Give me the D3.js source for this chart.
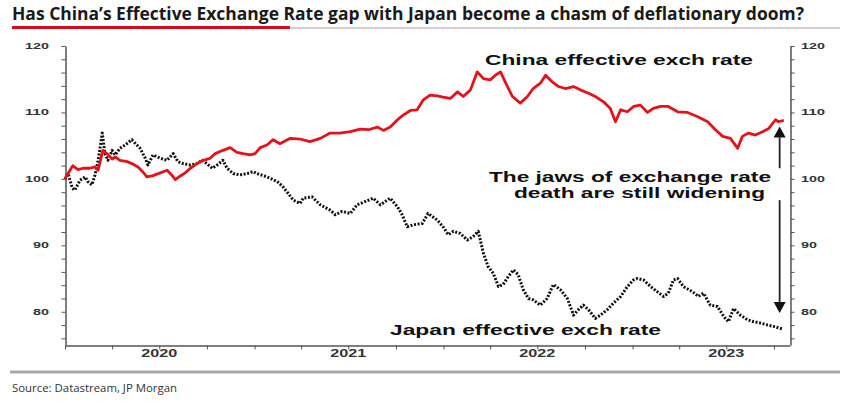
<!DOCTYPE html>
<html>
<head>
<meta charset="utf-8">
<script src="https://cdnjs.cloudflare.com/ajax/libs/d3/7.8.5/d3.min.js"></script>
<style>
  html, body { margin: 0; padding: 0; background: #fff; }
  svg { display: block; }
</style>
</head>
<body>
<svg id="chart" width="848" height="405"></svg>
<script>
// ---------------- DATA ----------------
const chinaDates = ["2020-01-01","2020-01-07","2020-01-16","2020-01-26","2020-02-05","2020-02-18","2020-02-28","2020-03-05","2020-03-14","2020-03-22","2020-04-01","2020-04-07","2020-04-16","2020-04-30","2020-05-09","2020-05-21","2020-05-31","2020-06-07","2020-06-19","2020-07-03","2020-07-16","2020-07-26","2020-08-01","2020-08-10","2020-08-20","2020-08-30","2020-09-12","2020-09-24","2020-10-07","2020-10-17","2020-11-01","2020-11-15","2020-11-28","2020-12-10","2020-12-24","2021-01-02","2021-01-12","2021-01-25","2021-02-06","2021-02-19","2021-03-11","2021-03-30","2021-04-18","2021-05-08","2021-05-27","2021-06-15","2021-07-05","2021-07-24","2021-08-09","2021-08-26","2021-09-07","2021-09-20","2021-10-04","2021-10-15","2021-10-29","2021-11-11","2021-11-23","2021-12-06","2021-12-20","2021-12-31","2022-01-14","2022-01-28","2022-02-08","2022-02-22","2022-03-07","2022-03-19","2022-04-01","2022-04-11","2022-04-21","2022-04-30","2022-05-14","2022-05-29","2022-06-12","2022-06-23","2022-07-07","2022-07-17","2022-07-30","2022-08-11","2022-08-24","2022-09-09","2022-09-22","2022-10-08","2022-10-21","2022-11-06","2022-11-19","2022-11-29","2022-12-09","2022-12-22","2023-01-03","2023-01-16","2023-01-30","2023-02-10","2023-02-24","2023-03-11","2023-03-29","2023-04-17","2023-05-06","2023-05-26","2023-06-10","2023-06-24","2023-07-09","2023-07-23","2023-08-01","2023-08-13","2023-08-26","2023-09-09","2023-09-21","2023-10-04","2023-10-10","2023-10-20"];
const chinaValues = [100,100.8,102,101.4,101.6,101.6,101.8,101.3,104.3,103.8,103,103.3,102.8,102.6,102.3,101.8,101,100.3,100.5,100.9,101.3,100.5,99.9,100.4,100.9,101.6,102.3,102.8,103.1,103.8,104.3,104.7,104,103.8,103.6,103.8,104.7,105.1,105.9,105.3,106.1,106,105.6,106.1,106.9,106.9,107.1,107.5,107.4,107.8,107.3,107.8,108.9,109.6,110.3,110.4,111.9,112.6,112.5,112.3,112.1,113.1,112.4,113.4,116.1,115.1,114.9,115.6,116.1,114.6,112.4,111.4,112.4,113.6,114.4,115.6,114.6,113.9,113.6,113.9,113.4,112.9,112.4,111.6,110.6,108.6,110.4,110.1,110.9,111.1,110,110.6,110.9,110.9,110.1,110,109.4,108.6,107.4,106.4,106.1,104.6,106.4,106.9,106.6,107.1,107.6,108.9,108.6,108.8];

const japanDates = ["2020-01-01","2020-01-07","2020-01-15","2020-01-20","2020-01-30","2020-02-09","2020-02-14","2020-02-22","2020-02-28","2020-03-05","2020-03-13","2020-03-18","2020-03-24","2020-04-01","2020-04-07","2020-04-16","2020-04-26","2020-05-09","2020-05-15","2020-05-25","2020-06-04","2020-06-09","2020-06-19","2020-07-03","2020-07-16","2020-07-28","2020-08-06","2020-08-16","2020-08-30","2020-09-12","2020-09-22","2020-10-01","2020-10-11","2020-10-21","2020-11-01","2020-11-09","2020-11-21","2020-12-04","2020-12-18","2020-12-29","2021-01-06","2021-01-25","2021-02-14","2021-02-25","2021-03-17","2021-03-30","2021-04-05","2021-04-22","2021-05-08","2021-05-27","2021-06-06","2021-06-19","2021-07-05","2021-07-18","2021-08-03","2021-08-18","2021-09-01","2021-09-20","2021-10-04","2021-10-13","2021-10-23","2021-11-04","2021-11-21","2021-12-02","2021-12-20","2021-12-31","2022-01-10","2022-01-20","2022-02-02","2022-02-16","2022-02-27","2022-03-09","2022-03-19","2022-03-28","2022-04-07","2022-04-17","2022-04-26","2022-05-06","2022-05-16","2022-05-25","2022-06-04","2022-06-14","2022-06-23","2022-07-07","2022-07-20","2022-08-01","2022-08-15","2022-08-28","2022-09-09","2022-09-18","2022-09-28","2022-10-08","2022-10-21","2022-10-31","2022-11-13","2022-11-25","2022-12-09","2022-12-22","2023-01-03","2023-01-10","2023-01-22","2023-02-05","2023-02-18","2023-03-02","2023-03-11","2023-03-21","2023-03-29","2023-04-09","2023-04-27","2023-05-08","2023-05-18","2023-05-31","2023-06-14","2023-06-26","2023-07-05","2023-07-15","2023-07-28","2023-08-11","2023-08-23","2023-09-05","2023-09-19","2023-09-30","2023-10-18"];
const japanValues = [100,100.8,98.6,98.3,99.8,100.3,99.6,99.1,100.6,102.8,106.9,103.8,102.8,104.3,103.6,104.6,105.1,105.9,105.4,104.6,103.1,102.1,103.6,103.1,102.8,103.8,102.6,102.3,102.1,102.3,102.8,102.3,101.6,102.1,102.8,101.6,100.8,100.6,100.8,101.1,100.8,100.3,99.6,98.8,96.8,96.3,97.1,97.3,96.1,95.3,94.6,95.1,94.8,96.1,96.6,97.1,96.1,97.1,95.8,94.6,92.8,93.1,93.3,94.8,93.8,92.8,91.6,92.1,91.8,90.8,91.3,92.1,88.8,86.8,85.8,83.8,84.1,85.3,86.3,85.6,83.3,82,81.8,81,82,84.1,83.3,82,79.5,80.3,81,80.3,79,79.5,80.3,81.3,82.3,83.8,84.8,85,84.8,83.8,83,82.3,82.8,84.8,85,83.8,83,82.3,82.8,81,80.8,79.3,78.5,80.5,79.5,78.8,78.5,78.3,78,77.8,77.4];

const yMajorTicks = [80, 90, 100, 110, 120];
const yearLabels = ["2020", "2021", "2022", "2023"];
const titleText = "Has China\u2019s Effective Exchange Rate gap with Japan become a chasm of deflationary doom?";
const sourceText = "Source: Datastream, JP Morgan";
const chinaLabel = "China effective exch rate";
const japanLabel = "Japan effective exch rate";
const jawsLines = ["The jaws of exchange rate", "death are still widening"];

// ---------------- CHART ----------------
const parse = d3.timeParse("%Y-%m-%d");
const svg = d3.select("#chart");
const FONT = "'Liberation Sans', Arial, Helvetica, sans-serif";

const x = d3.scaleTime()
  .domain([parse("2020-01-01"), parse("2023-11-01")])
  .range([65, 790]);
const y = d3.scaleLinear().domain([75, 120]).range([345, 46]);

svg.append("rect").attr("width", 848).attr("height", 405).attr("fill", "#fff");

// Title
svg.append("text")
  .attr("x", 12).attr("y", 20)
  .attr("font-family", "'Open Sans', 'Noto Sans', sans-serif")
  .attr("font-weight", 700).attr("font-size", 17)
  .attr("fill", "#1a1a1a")
  .attr("textLength", 792).attr("lengthAdjust", "spacingAndGlyphs")
  .text(titleText);
svg.append("line").attr("x1", 290).attr("x2", 840).attr("y1", 28).attr("y2", 28)
  .attr("stroke", "#cdb9bc").attr("stroke-width", 1.5);
svg.append("line").attr("x1", 12).attr("x2", 290).attr("y1", 27.5).attr("y2", 27.5)
  .attr("stroke", "#d0101e").attr("stroke-width", 3);

// Bottom separator & source
svg.append("line").attr("x1", 10).attr("x2", 840).attr("y1", 372).attr("y2", 372)
  .attr("stroke", "#a9a9a9").attr("stroke-width", 3);
svg.append("text")
  .attr("x", 12).attr("y", 392)
  .attr("font-family", "'Open Sans', 'Noto Sans', sans-serif")
  .attr("font-size", 11.5).attr("fill", "#333")
  .attr("textLength", 165).attr("lengthAdjust", "spacingAndGlyphs")
  .text(sourceText);

// Axes
const axisColor = "#555";
const minorTicks = d3.range(76, 121, 2);
function styleAxis(g) {
  g.selectAll("path.domain").attr("stroke", axisColor).attr("stroke-width", 1.5);
  g.selectAll(".tick line").attr("stroke", axisColor).attr("stroke-width", 1);
  g.selectAll(".tick text").remove();
}
svg.append("g").attr("transform", "translate(65.5,0)")
  .call(d3.axisLeft(y).tickValues(minorTicks).tickSize(4).tickSizeOuter(0).tickFormat(""))
  .call(styleAxis);
svg.append("g").attr("transform", "translate(790.5,0)")
  .call(d3.axisRight(y).tickValues(minorTicks).tickSize(4).tickSizeOuter(0).tickFormat(""))
  .call(styleAxis);
svg.append("g").attr("transform", "translate(0,345.5)")
  .call(d3.axisBottom(x).ticks(d3.timeMonth.every(3)).tickSize(4).tickSizeOuter(0).tickFormat(""))
  .call(styleAxis);

// Y labels (left & right)
yMajorTicks.forEach(v => {
  const s = String(v);
  const tl = s.length * 8;
  svg.append("text").attr("x", 49).attr("y", y(v) + 3)
    .attr("text-anchor", "end")
    .attr("font-family", FONT).attr("font-weight", 700).attr("font-size", 8.5)
    .attr("fill", "#333")
    .attr("textLength", tl).attr("lengthAdjust", "spacingAndGlyphs")
    .text(s);
  svg.append("text").attr("x", 801).attr("y", y(v) + 3)
    .attr("font-family", FONT).attr("font-weight", 700).attr("font-size", 8.5)
    .attr("fill", "#333")
    .attr("textLength", tl).attr("lengthAdjust", "spacingAndGlyphs")
    .text(s);
});

// X year labels (centered mid-year)
yearLabels.forEach(yr => {
  svg.append("text").attr("x", x(parse(yr + "-07-01"))).attr("y", 357)
    .attr("text-anchor", "middle")
    .attr("font-family", FONT).attr("font-weight", 700).attr("font-size", 10)
    .attr("fill", "#333")
    .attr("textLength", 36).attr("lengthAdjust", "spacingAndGlyphs")
    .text(yr);
});

// Series
const china = chinaDates.map((d, i) => ({ date: parse(d), value: chinaValues[i] }));
const japan = japanDates.map((d, i) => ({ date: parse(d), value: japanValues[i] }));
const line = d3.line().x(d => x(d.date)).y(d => y(d.value));

svg.append("path").datum(japan)
  .attr("d", line).attr("fill", "none")
  .attr("stroke", "#111").attr("stroke-width", 3)
  .attr("stroke-dasharray", "2,1.6").attr("stroke-linejoin", "round");

svg.append("path").datum(china)
  .attr("d", line).attr("fill", "none")
  .attr("stroke", "#e3121b").attr("stroke-width", 2.8)
  .attr("stroke-linejoin", "round");

// Annotations
function label(txt, x0, base, len) {
  svg.append("text").attr("x", x0).attr("y", base)
    .attr("font-family", FONT).attr("font-weight", 700).attr("font-size", 14)
    .attr("fill", "#111")
    .attr("textLength", len).attr("lengthAdjust", "spacingAndGlyphs")
    .text(txt);
}
label(chinaLabel, 485, 65, 268);
label(jawsLines[0], 489, 182, 282);
label(jawsLines[1], 514, 198, 251);
label(japanLabel, 390, 335, 271);

// Arrows
const arrowDate = parse("2023-10-12");
const ax = x(arrowDate);
function arrow(fromV, toV) {
  const y0 = y(fromV), y1 = y(toV);
  const dir = y1 < y0 ? -1 : 1;
  const headLen = 11, headW = 6;
  svg.append("line").attr("x1", ax).attr("x2", ax)
    .attr("y1", y0).attr("y2", y1 - dir * headLen)
    .attr("stroke", "#222").attr("stroke-width", 1.8);
  svg.append("path")
    .attr("d", `M${ax},${y1} L${ax - headW},${y1 - dir * headLen} L${ax + headW},${y1 - dir * headLen} Z`)
    .attr("fill", "#111");
}
arrow(101.6, 107.9);
arrow(96.8, 79.8);
</script>
</body>
</html>
